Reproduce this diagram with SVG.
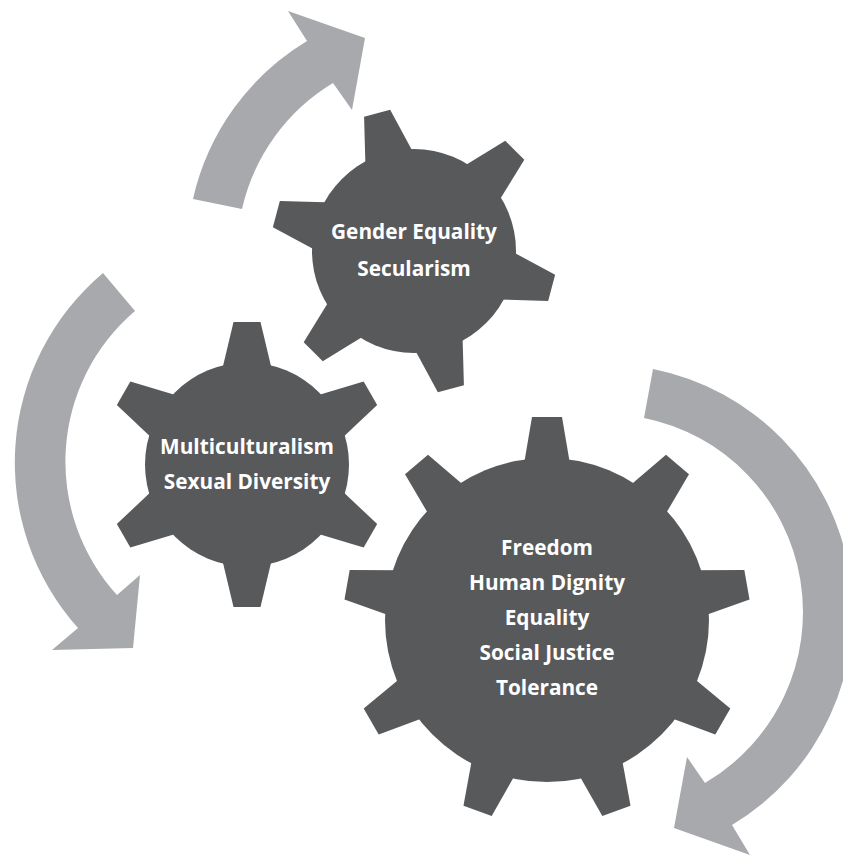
<svg xmlns="http://www.w3.org/2000/svg" xmlns:xlink="http://www.w3.org/1999/xlink" width="843" height="856" viewBox="0 0 843 856">
  <style>
    .arrow { fill: #a7a9ac; }
    .gear { fill: #58595b; }
    .label { fill: #ffffff; font-family: "Open Sans", "Noto Sans", "Liberation Sans", sans-serif; font-weight: bold; font-size: 20.8px; text-anchor: middle; }
  </style>
  <defs>
    <polygon id="toothM" points="-26,-90 26,-90 13.5,-142.5 -13.5,-142.5"/>
    <polygon id="toothL" points="-24,-150 24,-150 15,-203 -15,-203"/>
  </defs>
  <rect width="843" height="856" fill="#ffffff"/>
  <g id="connectors">
    <path class="arrow" d="M193,199 A248,248 0 0 1 307,41 L288,11 L365,38 L352,110 L333,83 A198,198 0 0 0 242,209 Z"/>
    <path class="arrow" d="M103,273 A248,248 0 0 0 78,628 L52,650 L133,648 L140,575 L117,595 A198,198 0 0 1 135,311 Z"/>
    <path class="arrow" d="M653,369 A248,248 0 0 1 732,825 L750,855 L674,828 L687,757 L705,783 A198,198 0 0 0 644,418 Z"/>
  </g>
  <g id="gear-top" class="gear" transform="translate(414,251)">
    <circle r="102"/>
    <use xlink:href="#toothM" transform="rotate(-15)"/>
    <use xlink:href="#toothM" transform="rotate(45)"/>
    <use xlink:href="#toothM" transform="rotate(105)"/>
    <use xlink:href="#toothM" transform="rotate(165)"/>
    <use xlink:href="#toothM" transform="rotate(225)"/>
    <use xlink:href="#toothM" transform="rotate(285)"/>
    <text class="label" x="0" y="-12">Gender Equality</text>
    <text class="label" x="0" y="25">Secularism</text>
  </g>
  <g id="gear-left" class="gear" transform="translate(247,464.5)">
    <circle r="102"/>
    <use xlink:href="#toothM" transform="rotate(0)"/>
    <use xlink:href="#toothM" transform="rotate(60)"/>
    <use xlink:href="#toothM" transform="rotate(120)"/>
    <use xlink:href="#toothM" transform="rotate(180)"/>
    <use xlink:href="#toothM" transform="rotate(240)"/>
    <use xlink:href="#toothM" transform="rotate(300)"/>
    <text class="label" x="0" y="-10.5">Multiculturalism</text>
    <text class="label" x="0" y="24.5">Sexual Diversity</text>
  </g>
  <g id="gear-big" class="gear" transform="translate(547,620)">
    <circle r="162"/>
    <use xlink:href="#toothL" transform="rotate(0)"/>
    <use xlink:href="#toothL" transform="rotate(40)"/>
    <use xlink:href="#toothL" transform="rotate(80)"/>
    <use xlink:href="#toothL" transform="rotate(120)"/>
    <use xlink:href="#toothL" transform="rotate(160)"/>
    <use xlink:href="#toothL" transform="rotate(200)"/>
    <use xlink:href="#toothL" transform="rotate(240)"/>
    <use xlink:href="#toothL" transform="rotate(280)"/>
    <use xlink:href="#toothL" transform="rotate(320)"/>
    <text class="label" x="0" y="-65">Freedom</text>
    <text class="label" x="0" y="-30">Human Dignity</text>
    <text class="label" x="0" y="5">Equality</text>
    <text class="label" x="0" y="40">Social Justice</text>
    <text class="label" x="0" y="75">Tolerance</text>
  </g>
</svg>
